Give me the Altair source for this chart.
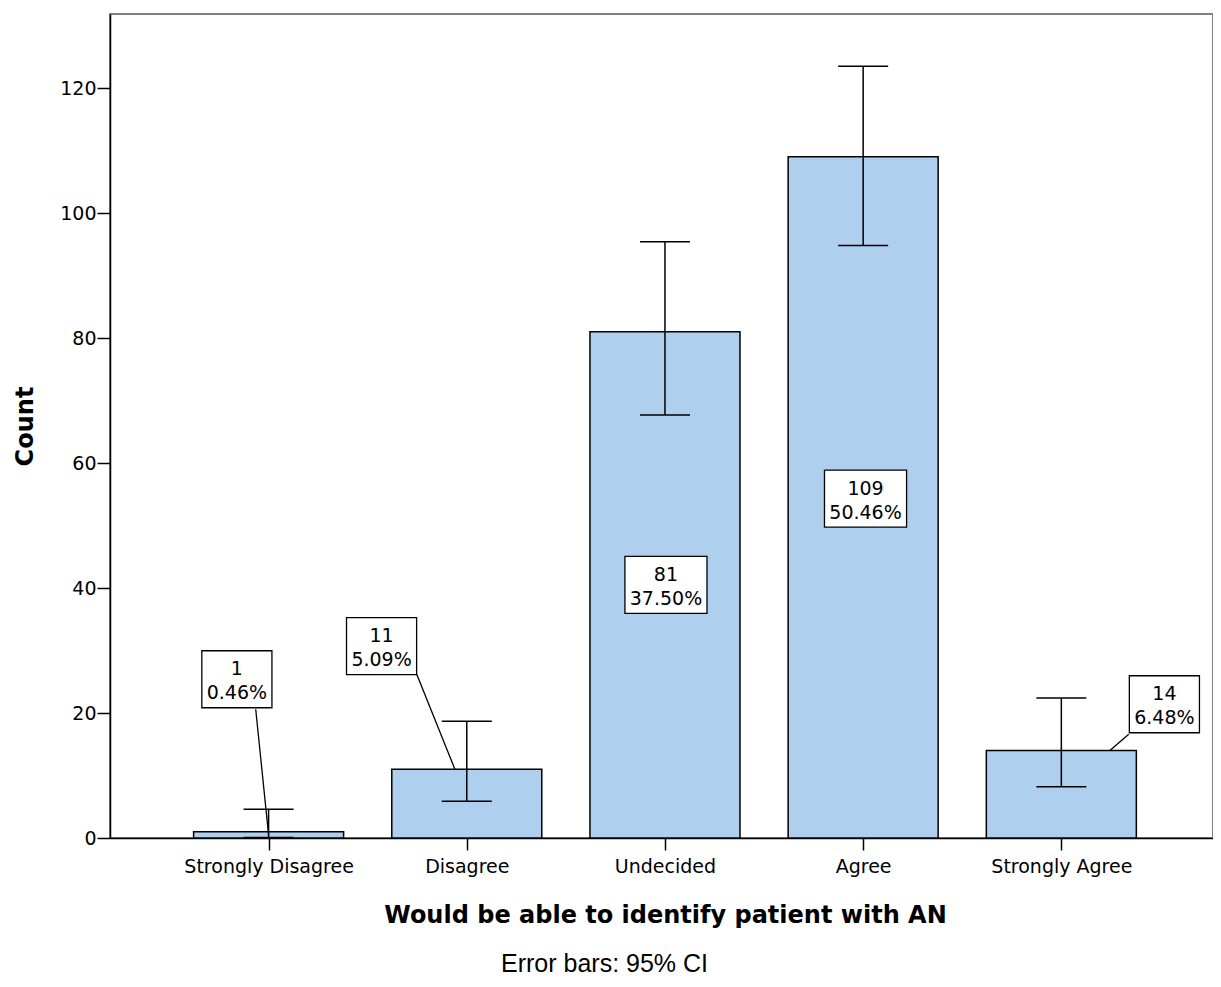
import altair as alt
import pandas as pd

# ---- data ----
categories = ["Strongly Disagree", "Disagree", "Undecided", "Agree", "Strongly Agree"]
counts = [1, 11, 81, 109, 14]
percents = ["0.46%", "5.09%", "37.50%", "50.46%", "6.48%"]
ci_low = [0.1, 5.9, 67.7, 94.8, 8.2]
ci_high = [4.6, 18.7, 95.4, 123.5, 22.4]

# ---- annotation placement (category-index units / count units) ----
label_dx = [-0.16, -0.43, 0.005, 0.012, 0.52]
label_y = [25.4, 30.7, 40.5, 54.3, 21.4]
leader_cat = [0, 1, 4]
leader_from = [(-0.065, 20.6), (-0.2525, 26.2), (0.34, 16.6)]
leader_to = [(0.0, 0.5), (-0.06, 11.0), (0.245, 14.0)]

note = "Error bars: 95% CI"
x_title = "Would be able to identify patient with AN"

FONT = "DejaVu Sans"

df = pd.DataFrame({
    "idx": list(range(len(categories))),
    "category": categories,
    "count": counts,
    "pct": percents,
    "lo": ci_low,
    "hi": ci_high,
})
df["lx"] = df["idx"] + pd.Series(label_dx)
df["ly"] = label_y
df["label"] = [f"{c}\n{p}" for c, p in zip(counts, percents)]

lead = pd.DataFrame({
    "x1": [leader_cat[i] + leader_from[i][0] for i in range(len(leader_cat))],
    "y1": [p[1] for p in leader_from],
    "x2": [leader_cat[i] + leader_to[i][0] for i in range(len(leader_cat))],
    "y2": [p[1] for p in leader_to],
})

W, H = 1103, 824
xscale = alt.Scale(domain=[-0.775, 4.74], nice=False, zero=False)
yscale = alt.Scale(domain=[0, 131.84], nice=False, zero=True)

label_expr = "[" + ",".join("'" + c + "'" for c in categories) + "][datum.value]"

xaxis = alt.Axis(
    values=list(range(len(categories))), labelExpr=label_expr, title=x_title,
    grid=False, labelFont=FONT, labelFontSize=19, labelColor="black",
    labelPadding=7, labelOverlap=False, labelFlush=False,
    tickColor="black", tickSize=12, tickWidth=1.5,
    domainColor="black", domainWidth=1.5,
    titleFont=FONT, titleFontSize=24, titleFontWeight="bold", titleColor="black",
    titleX=555, titleY=77, titleBaseline="middle", titleAlign="center",
)
yaxis = alt.Axis(
    values=[0, 20, 40, 60, 80, 100, 120], format="d", title="Count",
    grid=False, labelFont=FONT, labelFontSize=19, labelColor="black",
    labelPadding=1, tickColor="black", tickSize=13, tickWidth=1.5,
    domainColor="black", domainWidth=1.5,
    titleFont=FONT, titleFontSize=24, titleFontWeight="bold", titleColor="black",
    titleX=-85, titleY=412, titleAngle=270, titleBaseline="middle", titleAlign="center",
)

base = alt.Chart(df)

bars = base.mark_bar(orient="vertical", size=150, fill="#aecfed", stroke="black",
                     strokeWidth=1.5).encode(
    x=alt.X("idx:Q", scale=xscale, axis=xaxis),
    y=alt.Y("count:Q", scale=yscale, axis=yaxis),
)

err = base.mark_rule(color="black", strokeWidth=1.5).encode(
    x=alt.X("idx:Q", scale=xscale), y=alt.Y("lo:Q", scale=yscale), y2="hi:Q")
cap_lo = base.mark_tick(orient="horizontal", size=50, thickness=1.5, color="black",
                        opacity=1).encode(x=alt.X("idx:Q", scale=xscale),
                                          y=alt.Y("lo:Q", scale=yscale))
cap_hi = base.mark_tick(orient="horizontal", size=50, thickness=1.5, color="black",
                        opacity=1).encode(x=alt.X("idx:Q", scale=xscale),
                                          y=alt.Y("hi:Q", scale=yscale))

leaders = alt.Chart(lead).mark_rule(color="black", strokeWidth=1.3).encode(
    x=alt.X("x1:Q", scale=xscale), y=alt.Y("y1:Q", scale=yscale),
    x2="x2:Q", y2="y2:Q")

boxes = base.transform_calculate(
    box="length(datum.pct) > 5 ? 'M-1.44,-1H1.44V1H-1.44Z' : 'M-1.23,-1H1.23V1H-1.23Z'"
).mark_point(filled=True, fill="white", stroke="black", strokeWidth=1.3,
             opacity=1, size=3249).encode(
    x=alt.X("lx:Q", scale=xscale), y=alt.Y("ly:Q", scale=yscale),
    shape=alt.Shape("box:N", scale=None))

texts = base.mark_text(lineBreak="\n", font=FONT, fontSize=19, lineHeight=24,
                       baseline="middle", align="center", color="black", dy=-10).encode(
    x=alt.X("lx:Q", scale=xscale), y=alt.Y("ly:Q", scale=yscale), text="label:N")

foot = alt.Chart(pd.DataFrame({"t": [note]})).mark_text(
    align="left", baseline="alphabetic", font="Liberation Sans", fontSize=25,
    color="black").encode(x=alt.value(391), y=alt.value(958), text="t:N")

chart = alt.layer(bars, leaders, err, cap_lo, cap_hi, boxes, texts, foot).properties(
    width=W, height=H,
    padding={"left": 102, "top": 6, "right": 0, "bottom": 141},
    autosize=alt.AutoSizeParams(type="none"),
    background="white",
).configure_view(stroke="#808080", strokeWidth=2)

chart.save("out.html", embed_options={"renderer": "svg", "actions": False})
